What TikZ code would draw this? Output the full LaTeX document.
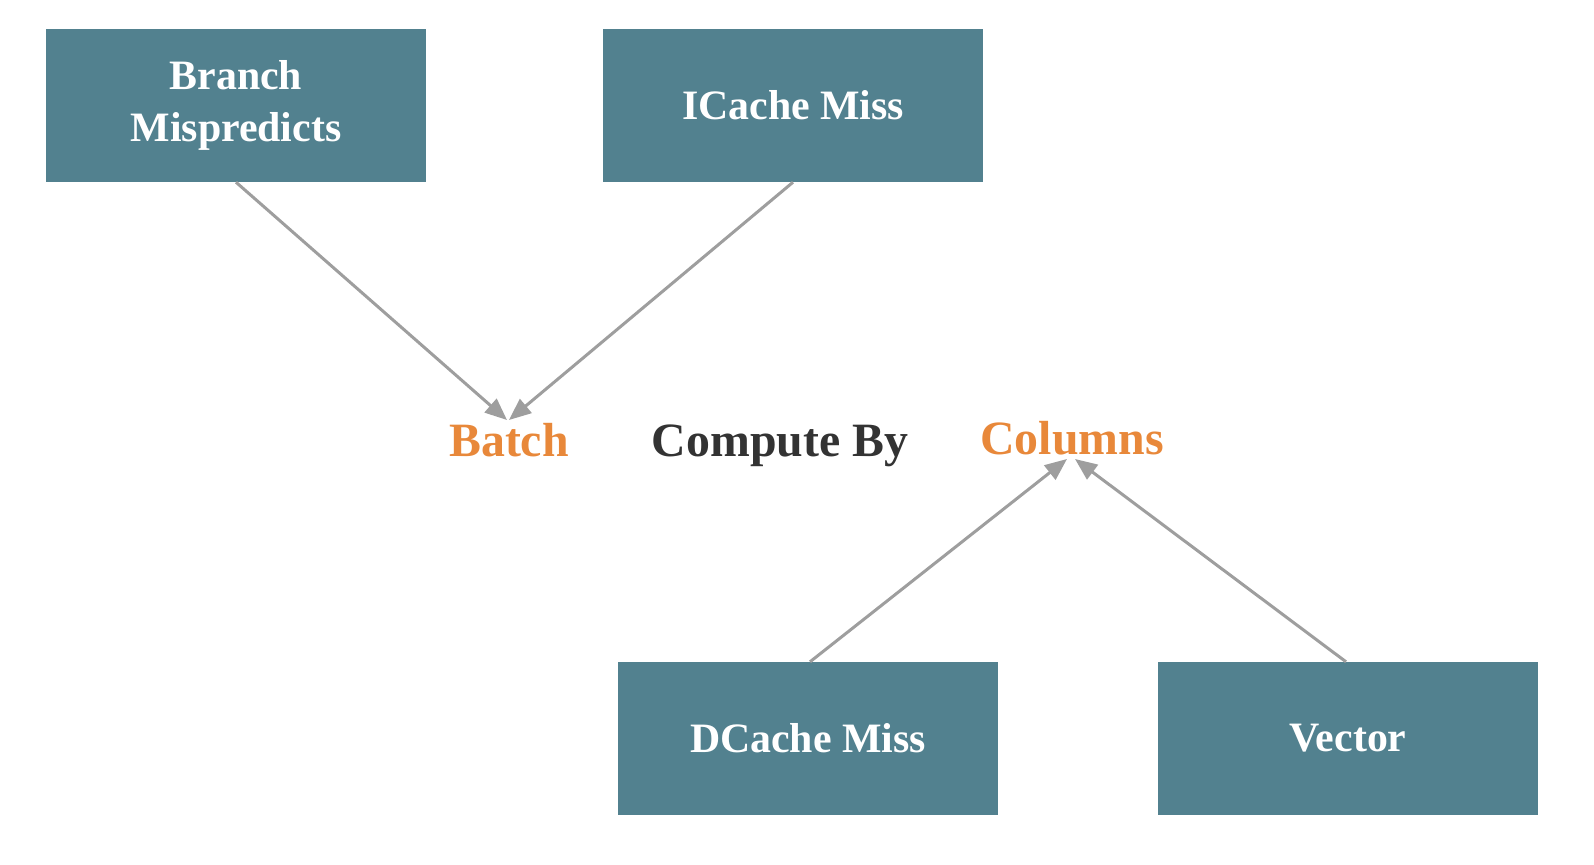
\documentclass[tikz,border=0pt]{standalone}
\usepackage{fontspec}
\setmainfont{Liberation Serif}
\usetikzlibrary{arrows.meta}
\definecolor{boxc}{HTML}{52818F}
\definecolor{orng}{HTML}{E8883A}
\definecolor{dark}{HTML}{333333}
\definecolor{arr}{HTML}{9E9E9E}
\begin{document}
\begin{tikzpicture}[x=1bp,y=-1bp,
  box/.style={fill=boxc,draw=none,minimum width=380bp,minimum height=153bp,text=white,font=\bfseries\fontsize{42}{52}\selectfont,align=center,inner sep=0},
  lab/.style={font=\bfseries\fontsize{48}{50}\selectfont,inner sep=0,anchor=base},
  con/.style={draw=arr,line width=3bp,-{Triangle[length=22bp,width=18bp]}}]
\useasboundingbox (0,0) rectangle (1594,864);
\node[box] (br) at (236,105.5) {Branch\\Mispredicts};
\node[box] (ic) at (793,105.5) {ICache Miss};
\node[box] (dc) at (808,738.5) {DCache Miss};
\node[box] (ve) at (1348,738.5) {Vector};
\node[lab,text=orng] (ba) at (509,456) {Batch};
\node[lab,text=dark] (cb) at (780,456) {Compute By};
\node[lab,text=orng] (co) at (1072,454) {Columns};
\coordinate (bt) at (508,420);
\coordinate (ct) at (1071,459);
\draw[con] (br.south) -- ([xshift=-1bp]bt);
\draw[con] (ic.south) -- ([xshift=1bp]bt);
\draw[con] ([xshift=2bp]dc.north) -- ([xshift=-4bp]ct);
\draw[con] ([xshift=-2bp]ve.north) -- ([xshift=4bp]ct);
\end{tikzpicture}
\end{document}
